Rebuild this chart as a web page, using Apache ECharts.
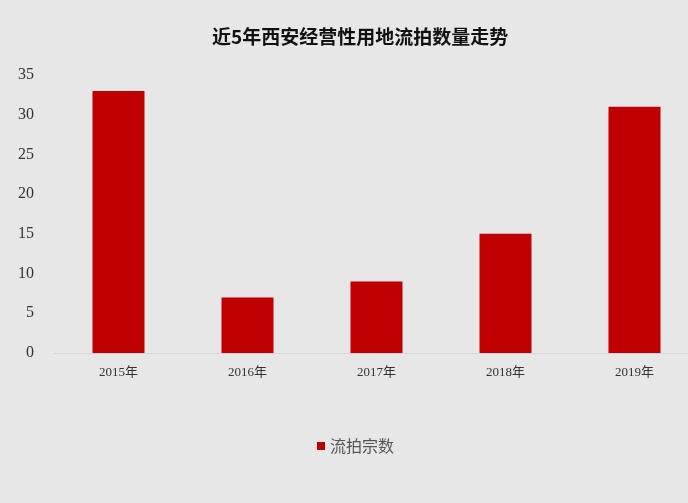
<!DOCTYPE html>
<html>
<head>
<meta charset="utf-8">
<script src="https://cdn.jsdelivr.net/npm/echarts@6/dist/echarts.min.js"></script>
<style>
  html, body { margin: 0; padding: 0; background: #e7e7e7; }
  #main { width: 688px; height: 503px; }
</style>
</head>
<body>
<div id="main"></div>
<script>
var years = ['2015年', '2016年', '2017年', '2018年', '2019年'];
var counts = [33, 7, 9, 15, 31];
var yTicks = [0, 5, 10, 15, 20, 25, 30, 35];

var myChart = echarts.init(document.getElementById('main'));

var option = {
    backgroundColor: '#e7e7e7',
    title: {
        text: '近5年西安经营性用地流拍数量走势',
        left: 207,
        top: 22,
        textStyle: {
            color: '#111',
            fontSize: 19,
            fontWeight: 'bold',
            fontFamily: 'Noto Sans CJK SC'
        }
    },
    legend: {
        bottom: 44,
        left: 312,
        icon: 'rect',
        itemWidth: 8,
        itemHeight: 8,
        data: ['流拍宗数'],
        textStyle: {
            color: '#555',
            fontSize: 16,
            fontFamily: 'Noto Sans CJK SC'
        }
    },
    grid: {
        left: 54,
        width: 645,
        top: 75,
        bottom: 150,
        outerBoundsMode: 'none'
    },
    xAxis: {
        type: 'category',
        data: years,
        axisTick: { show: false },
        axisLine: { lineStyle: { color: '#d6d6d6', width: 1 } },
        axisLabel: {
            color: '#333',
            fontSize: 13,
            margin: 13,
            fontFamily: 'Liberation Serif, Noto Sans CJK SC'
        }
    },
    yAxis: {
        type: 'value',
        min: yTicks[0],
        max: yTicks[yTicks.length - 1],
        interval: 5,
        axisLine: { show: false },
        axisTick: { show: false },
        splitLine: { show: false },
        axisLabel: {
            color: '#333',
            fontSize: 16,
            margin: 20,
            fontFamily: 'Liberation Serif'
        }
    },
    series: [
        {
            name: '流拍宗数',
            type: 'bar',
            barWidth: 52,
            data: counts,
            itemStyle: { color: '#c00000' }
        }
    ]
};

myChart.setOption(option);
</script>
</body>
</html>
